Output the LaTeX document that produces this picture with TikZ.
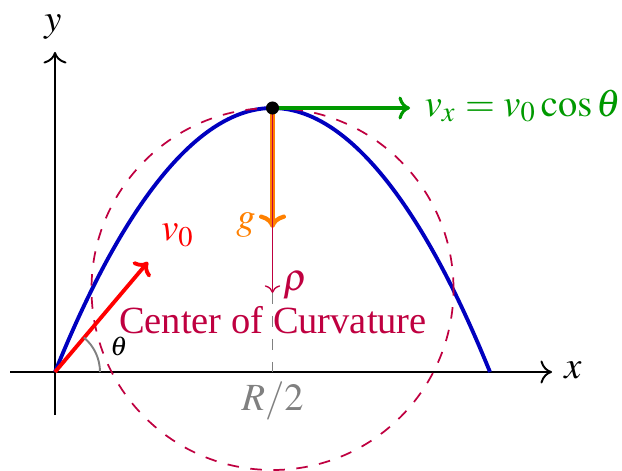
\documentclass[tikz,border=0pt]{standalone}
\usepackage{mathptmx}
\usepackage{fontspec}
\setmainfont{Liberation Serif}
\usetikzlibrary{arrows.meta}
\begin{document}
\begin{tikzpicture}[x=0.26pt,y=-0.26pt,
  axis/.style={line width=0.5pt,-{To[length=3pt,width=6pt]}},
  vec/.style={-{To[length=3pt,width=6pt]}},
  lbl/.style={inner sep=0pt}]
\useasboundingbox (0,0) rectangle (622,470);
\coordinate (O) at (55,372);
\coordinate (P) at (272.5,108);
\coordinate (E) at (490,372);
\coordinate (C) at (272.5,289);
\coordinate (Xs) at (10,372);
\coordinate (Xe) at (552,372);
\coordinate (Ys) at (55,415);
\coordinate (Ye) at (55,52);
\coordinate (Rho) at (272.5,293);
\coordinate (G) at (272.5,228);
\coordinate (Vx) at (410,108);
\coordinate (V0) at (148,262);
\coordinate (A) at (100,372);
% axes
\draw[axis] (Xs) -- (Xe);
\draw[axis] (Ys) -- (Ye);
\node[lbl] (xl) at (573,370) {$x$};
\node[lbl] (yl) at (53,27) {$y$};
% trajectory
\draw[blue!75!black,line width=1pt] (O) parabola bend (P) (E);
% circle of curvature
\draw[purple,dashed,line width=0.45pt] (C) circle[radius=47.06pt];
\draw[gray,dashed,line width=0.3pt] (P) -- (P |- O);
% vectors
\draw[orange,line width=1.1pt,-{To[length=3.5pt,width=7pt]}] (P) -- (G);
\draw[purple,line width=0.35pt,-{To[length=2pt,width=4pt]}] (P) -- (Rho);
\draw[green!60!black,line width=0.8pt,vec] (P) -- (Vx);
\draw[red,line width=1pt,vec] (O) -- (V0);
\draw[gray,line width=0.5pt] (A) arc[start angle=0,end angle=50,radius=11.7pt];
\fill (P) circle[radius=1.7pt];
% labels
\node[lbl,text=orange] (gl) at (246,225) {$g$};
\node[lbl,text=purple] (rl) at (296,285) {$\rho$};
\node[lbl,text=purple] (cc) at (273,320) {Center of Curvature};
\node[lbl,text=red] (vl) at (178,235) {$v_0$};
\node[lbl] (tl) at (119,346) {\scriptsize$\theta$};
\node[lbl,text=gray] (rl2) at (272.5,401) {$R/2$};
\node[lbl,text=green!60!black,anchor=west] (vxl) at (424,106) {$v_x = v_0\cos\theta$};
\end{tikzpicture}
\end{document}
